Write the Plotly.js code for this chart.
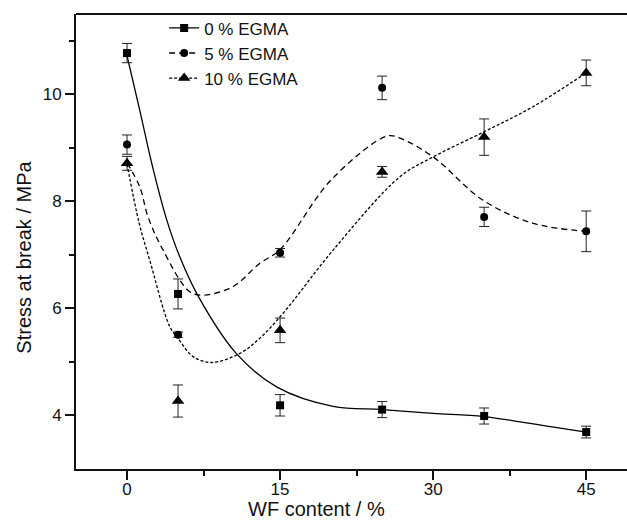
<!DOCTYPE html>
<html>
<head>
<meta charset="utf-8">
<script src="https://cdn.plot.ly/plotly-3.0.1.min.js"></script>
<style>
html,body{margin:0;padding:0;background:#fff;}
#chart{width:627px;height:523px;}
</style>
</head>
<body>
<div id="chart"></div>
<script>
// measured points
var wf = [0, 5, 15, 25, 35, 45];
var stress0 = [10.77, 6.27, 4.19, 4.11, 3.99, 3.69];
var err0 = [0.18, 0.28, 0.20, 0.15, 0.15, 0.11];
var stress5 = [9.06, 5.51, 7.04, 10.12, 7.71, 7.44];
var err5 = [0.18, 0.05, 0.08, 0.22, 0.18, 0.38];
var stress10 = [8.71, 4.27, 5.59, 8.55, 9.20, 10.40];
var err10 = [0.13, 0.30, 0.23, 0.10, 0.34, 0.24];

// fitted curves
var fit0X = [0, 1.25, 2.5, 3.9, 5.2, 7.0, 10.7, 14.7, 20.2, 25, 30, 35, 41.5, 45];
var fit0Y = [10.72, 9.7, 8.65, 7.65, 6.95, 6.22, 5.16, 4.53, 4.17, 4.11, 4.04, 3.98, 3.79, 3.69];
var fit5X = [0, 1.25, 2.06, 3.53, 6.15, 7.6, 10.4, 13.0, 15, 20, 25.5, 26.75, 30, 34.9, 39.8, 45];
var fit5Y = [8.72, 8.27, 7.71, 7.09, 6.31, 6.25, 6.41, 6.84, 7.1, 8.4, 9.22, 9.18, 8.83, 8.02, 7.59, 7.44];
var fit10X = [0, 1.18, 2.23, 4.19, 5.0, 6.48, 8.3, 11.06, 13.0, 15.3, 20.2, 26.75, 30, 35, 39.8, 45];
var fit10Y = [8.7, 7.6, 6.9, 5.66, 5.44, 5.1, 4.99, 5.16, 5.44, 5.91, 7.09, 8.46, 8.83, 9.3, 9.77, 10.4];

var seriesNames = ['0 % EGMA', '5 % EGMA', '10 % EGMA'];
var xTicks = [0, 15, 30, 45];
var yTicks = [4, 6, 8, 10];

var dashes = ['solid', '6px,4px', '3px,2px'];
var symbols = ['square', 'circle', 'triangle-up'];
var sizes = [8, 8, 11];
var pts = [stress0, stress5, stress10];
var errs = [err0, err5, err10];
var fitsX = [fit0X, fit5X, fit10X];
var fitsY = [fit0Y, fit5Y, fit10Y];

var traces = [];
for (var i = 0; i < 3; i++) {
  traces.push({
    x: fitsX[i], y: fitsY[i], type: 'scatter', mode: 'lines',
    line: {color: 'black', width: 1.3, dash: dashes[i], shape: 'spline', smoothing: 1},
    showlegend: false, hoverinfo: 'skip'
  });
}
for (var i = 0; i < 3; i++) {
  traces.push({
    x: wf, y: pts[i], type: 'scatter', mode: 'markers',
    marker: {symbol: symbols[i], size: sizes[i], color: 'black'},
    error_y: {type: 'data', array: errs[i], visible: true, color: '#222', thickness: 1, width: 5},
    showlegend: false
  });
}
for (var i = 0; i < 3; i++) {
  traces.push({
    x: [null], y: [null], type: 'scatter', mode: 'lines+markers', name: seriesNames[i],
    line: {color: 'black', width: 1.3, dash: dashes[i]},
    marker: {symbol: symbols[i], size: sizes[i], color: 'black'}
  });
}

var fam = 'Liberation Sans, Arial, sans-serif';
var tickFont = {family: fam, size: 17, color: '#111'};
var titleFont = {family: fam, size: 20, color: '#111'};
var legFont = {family: fam, size: 17, color: '#111'};

var layout = {
  width: 627, height: 523,
  margin: {l: 76, r: 0, t: 14, b: 54},
  paper_bgcolor: '#fff', plot_bgcolor: '#fff',
  font: tickFont,
  showlegend: true,
  legend: {x: 0.16, y: 1.008, xanchor: 'left', yanchor: 'top', bgcolor: 'rgba(0,0,0,0)',
           font: legFont, tracegroupgap: 0, itemclick: false},
  xaxis: {
    range: [-5, 49], tickvals: xTicks, ticktext: xTicks.map(String),
    showgrid: false, zeroline: false, showline: true, linecolor: '#111', linewidth: 2,
    ticks: 'outside', ticklen: 9, tickwidth: 2, tickcolor: '#111', ticklabelstandoff: -5,
    minor: {tickvals: [7.5, 22.5, 37.5], ticks: 'outside', ticklen: 5, tickwidth: 2, tickcolor: '#111'},
    tickfont: tickFont
  },
  yaxis: {
    range: [3, 11.5], tickvals: yTicks, ticktext: yTicks.map(String),
    showgrid: false, zeroline: false, showline: true, linecolor: '#111', linewidth: 2,
    ticks: 'outside', ticklen: 9, tickwidth: 2, tickcolor: '#111',
    minor: {tickvals: [5, 7, 9, 11], ticks: 'outside', ticklen: 5, tickwidth: 2, tickcolor: '#111'},
    tickfont: tickFont
  },
  annotations: [
    {text: 'WF content / %', xref: 'paper', yref: 'paper', x: 0.4356, y: -0.0873,
     xanchor: 'center', yanchor: 'middle', showarrow: false, font: titleFont},
    {text: 'Stress at break / MPa', xref: 'paper', yref: 'paper', x: -0.094, y: 0.465,
     xanchor: 'center', yanchor: 'middle', textangle: -90, showarrow: false, font: titleFont}
  ],
  shapes: [
    {type: 'line', xref: 'paper', yref: 'paper', x0: 0, x1: 1, y0: 1, y1: 1,
     line: {color: '#111', width: 2}}
  ]
};

Plotly.newPlot('chart', traces, layout, {displayModeBar: false, staticPlot: true});
</script>
</body>
</html>
